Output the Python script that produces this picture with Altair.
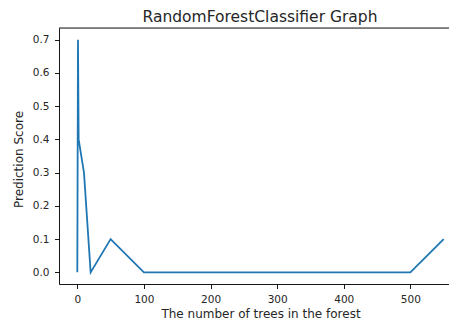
import altair as alt
import pandas as pd

trees = [0, 1, 2, 10, 20, 50, 100, 200, 300, 400, 500, 550]
scores = [0.0, 0.7, 0.4, 0.3, 0.0, 0.1, 0.0, 0.0, 0.0, 0.0, 0.0, 0.1]
x_ticks = [0, 100, 200, 300, 400, 500]
y_ticks = [0.0, 0.1, 0.2, 0.3, 0.4, 0.5, 0.6, 0.7]

df = pd.DataFrame({"trees": trees, "score": scores, "order": list(range(len(trees)))})

W, H = 390, 256
FONT = "DejaVu Sans"
TXT = "#262626"

line = alt.Chart(df).mark_line(color="#1f77b4", strokeWidth=1.8, clip=True).encode(
    x=alt.X("trees:Q", scale=alt.Scale(domain=[-27.5, 558], nice=False, zero=False),
            axis=alt.Axis(values=x_ticks, format="d", title="The number of trees in the forest",
                          grid=False, tickSize=4.5, tickWidth=0.9, tickColor="#000",
                          domainColor="#000", domainWidth=0.9, labelPadding=5.5,
                          labelFont=FONT, labelFontSize=10.5, labelColor=TXT,
                          titleFont=FONT, titleFontSize=12, titleFontWeight="normal",
                          titleColor=TXT, titleX=201.5, titleY=33,
                          titleBaseline="alphabetic", labelFlush=False)),
    y=alt.Y("score:Q", scale=alt.Scale(domain=[-0.035, 0.735], nice=False, zero=False),
            axis=alt.Axis(values=y_ticks, format=".1f", title="Prediction Score",
                          grid=False, tickSize=4.5, tickWidth=0.9, tickColor="#000",
                          domainColor="#000", domainWidth=0.9, labelPadding=5.5,
                          labelFont=FONT, labelFontSize=10.5, labelColor=TXT,
                          titleFont=FONT, titleFontSize=12, titleFontWeight="normal",
                          titleColor=TXT, titleX=-40.5, titleY=131, titleAngle=270,
                          titleAlign="center", titleBaseline="middle", labelFlush=False)),
    order="order:Q",
)

frame_df = pd.DataFrame({"edge": ["top"]})
top_spine = alt.Chart(frame_df).mark_rule(color="#000", strokeWidth=0.9).encode(
    x=alt.value(0), x2=alt.value(W), y=alt.value(0)
)

chart = alt.layer(line, top_spine).properties(
    width=W, height=H,
    title=alt.TitleParams("RandomForestClassifier Graph", font=FONT, fontSize=15.5,
                          fontWeight="normal", color=TXT, anchor="middle",
                          baseline="alphabetic", offset=7, dy=17, dx=6),
    autosize=alt.AutoSizeParams(type="none"),
    padding={"left": 51, "top": 20, "right": 0, "bottom": 36},
).configure_view(stroke=None).configure(background="white")

chart.save("out.html", embed_options={"renderer": "svg", "actions": False})
